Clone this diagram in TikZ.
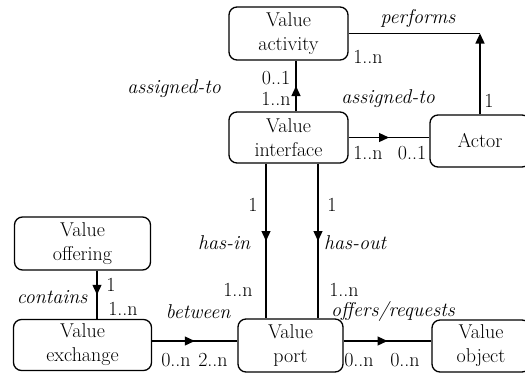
\documentclass[tikz,border=0pt]{standalone}
\usepackage{fontspec}
\usetikzlibrary{arrows.meta,decorations.markings}
\tikzset{
  box/.style={draw, rounded corners=8pt, line width=1.3pt, align=center, inner sep=0pt,
    font=\fontsize{20pt}{24pt}\selectfont},
  lbl/.style={font=\fontsize{20pt}{24pt}\selectfont, inner sep=0pt},
  rel/.style={font=\fontsize{20pt}{24pt}\selectfont\itshape, inner sep=0pt},
  conn/.style={line width=1.3pt},
  midarrow/.style={postaction={decorate}, decoration={markings,
    mark=at position 0.5 with {\arrow{Triangle[length=10pt,width=9pt]}}}},
  endarrow/.style={-{Triangle[length=10pt,width=9pt]}},
}
\begin{document}
\begin{tikzpicture}[x=1pt,y=-1pt]
\useasboundingbox (0,0) rectangle (525,373);
\clip (0,0) rectangle (525,373);
% boxes
\node[box, minimum width=119pt, minimum height=53pt] (act) at (288.5,33.5) {Value\\activity};
\node[box, minimum width=119pt, minimum height=51pt] (int) at (288.5,137.5) {Value\\interface};
\node[box, minimum width=100pt, minimum height=52pt] (actor) at (480,141) {Actor};
\node[box, minimum width=136pt, minimum height=53pt] (off) at (82.5,243.5) {Value\\offering};
\node[box, minimum width=138pt, minimum height=51pt] (exch) at (82.5,345) {Value\\exchange};
\node[box, minimum width=105pt, minimum height=53pt] (port) at (290.5,345.5) {Value\\port};
\node[box, minimum width=98pt, minimum height=52pt] (obj) at (481,346) {Value\\object};
% interface -> activity
\draw[conn, midarrow] ([xshift=7.5pt]int.north) -- ([xshift=7.5pt]act.south);
% performs
\coordinate (pc) at (act.east -| actor.north);
\draw[conn] (act.east) -- (pc);
\draw[conn, endarrow] (actor.north) -- (pc);
% interface -> actor
\draw[conn, midarrow] (int.east) -- (int.east -| actor.west);
% has-in / has-out
\draw[conn, midarrow] ([xshift=-22.5pt]int.south) -- ([xshift=-22.5pt]int.south |- port.north);
\draw[conn, midarrow] ([xshift=29.5pt]int.south) -- ([xshift=29.5pt]int.south |- port.north);
% contains
\draw[conn, midarrow] ([xshift=14.5pt]off.south) -- ([xshift=14.5pt]off.south |- exch.north);
% between
\draw[conn, midarrow] ([yshift=4pt]exch.east) -- ([yshift=4pt]exch.east -| port.west);
% offers/requests
\draw[conn, midarrow] ([yshift=4.5pt]port.east) -- ([yshift=4.5pt]port.east -| obj.west);
% labels
\node[rel] (l1) at (418,18) {performs};
\node[lbl] (l2) at (368,57) {1..n};
\node[lbl] (l3) at (489,101) {1};
\node[rel] (l4) at (174,89) {assigned-to};
\node[lbl] (l5) at (276,78) {0..1};
\node[lbl] (l6) at (276,99) {1..n};
\node[rel] (l7) at (388,99) {assigned-to};
\node[lbl] (l8) at (368,153) {1..n};
\node[lbl] (l9) at (412,153) {0..1};
\node[rel] (l10) at (224,243) {has-in};
\node[lbl] (l11) at (253,205) {1};
\node[lbl] (l12) at (238,290) {1..n};
\node[rel] (l13) at (355,243) {has-out};
\node[lbl] (l14) at (332,205) {1};
\node[lbl] (l15) at (344,290) {1..n};
\node[rel] (l16) at (393,311) {offers/requests};
\node[rel] (l17) at (52,297) {contains};
\node[lbl] (l18) at (111,285) {1};
\node[lbl] (l19) at (123,309) {1..n};
\node[rel] (l20) at (198,312) {between};
\node[lbl] (l21) at (176,360) {0..n};
\node[lbl] (l22) at (213,360) {2..n};
\node[lbl] (l23) at (359,360) {0..n};
\node[lbl] (l24) at (405,360) {0..n};
\end{tikzpicture}
\end{document}
